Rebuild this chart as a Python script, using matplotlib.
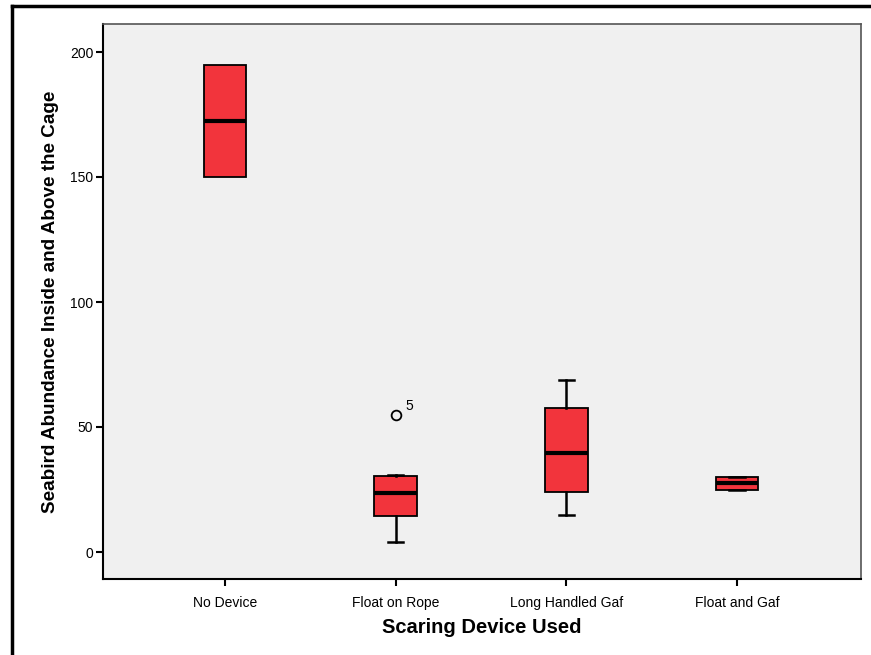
import matplotlib
matplotlib.use("Agg")
import matplotlib.pyplot as plt
from matplotlib.lines import Line2D

plt.rcParams["font.family"] = ["Liberation Sans", "DejaVu Sans"]

# box statistics
categories = ["No Device", "Float on Rope", "Long Handled Gaf", "Float and Gaf"]
q1 = [150, 14.5, 24, 25]
median = [172.5, 23.5, 39.5, 27.5]
q3 = [195, 30.5, 57.5, 30]
whislo = [150, 4, 15, 25]
whishi = [195, 31, 69, 30]
outliers = [[], [55], [], []]
outlier_labels = [[], ["5"], [], []]

y_ticks = [0, 50, 100, 150, 200]

BOX_RED = "#F2343C"
BG = "#F0F0F0"


def main():
    fig = plt.figure(figsize=(8.71, 6.55), dpi=100)
    ax = fig.add_axes([103 / 871, 1 - 579 / 655, 758 / 871, 555 / 655])
    ax.set_facecolor(BG)

    stats = []
    for i, name in enumerate(categories):
        stats.append(dict(label=name, q1=q1[i], med=median[i], q3=q3[i],
                          whislo=whislo[i], whishi=whishi[i], fliers=outliers[i]))

    positions = list(range(1, len(categories) + 1))
    # no cap drawn where the whisker sits on the box edge
    caps = [0.0, 0.09, 0.09, 0.09]
    ax.bxp(stats, positions=positions, widths=0.25, patch_artist=True,
           boxprops=dict(facecolor=BOX_RED, edgecolor="black", linewidth=1.3),
           medianprops=dict(color="black", linewidth=3),
           whiskerprops=dict(color="black", linewidth=1.8),
           capprops=dict(color="black", linewidth=1.8),
           capwidths=caps,
           flierprops=dict(marker="o", markerfacecolor="none",
                           markeredgecolor="black", markersize=7,
                           markeredgewidth=1.3))

    for i, labs in enumerate(outlier_labels):
        for v, lab in zip(outliers[i], labs):
            ax.annotate(lab, (positions[i], v), xytext=(7, 3),
                        textcoords="offset points", fontsize=10)

    ax.set_xlim(0.285, 4.726)
    ax.set_ylim(-10.8, 211.2)
    ax.set_yticks(y_ticks)
    ax.set_xticks(positions)
    ax.set_xticklabels(categories)
    ax.tick_params(axis="both", labelsize=10, width=1.5, length=5)
    ax.tick_params(axis="x", pad=7)
    ax.tick_params(axis="y", pad=2)

    ax.set_xlabel("Scaring Device Used", fontsize=14.5, fontweight="bold", labelpad=6)
    ax.set_ylabel("Seabird Abundance Inside and Above the Cage", fontsize=13.6,
                  fontweight="bold", labelpad=8)

    for side in ("left", "bottom"):
        ax.spines[side].set_linewidth(1.5)
        ax.spines[side].set_color("black")
    for side in ("top", "right"):
        ax.spines[side].set_linewidth(1.2)
        ax.spines[side].set_color("#555555")

    # outer frame lines (top and left)
    fig.add_artist(Line2D([12 / 871, 1], [1 - 6 / 655, 1 - 6 / 655],
                          color="black", linewidth=2.5, transform=fig.transFigure))
    fig.add_artist(Line2D([12 / 871, 12 / 871], [1 - 6 / 655, 0],
                          color="black", linewidth=2.5, transform=fig.transFigure))

    fig.savefig("out.png", dpi=100)


if __name__ == "__main__":
    main()
